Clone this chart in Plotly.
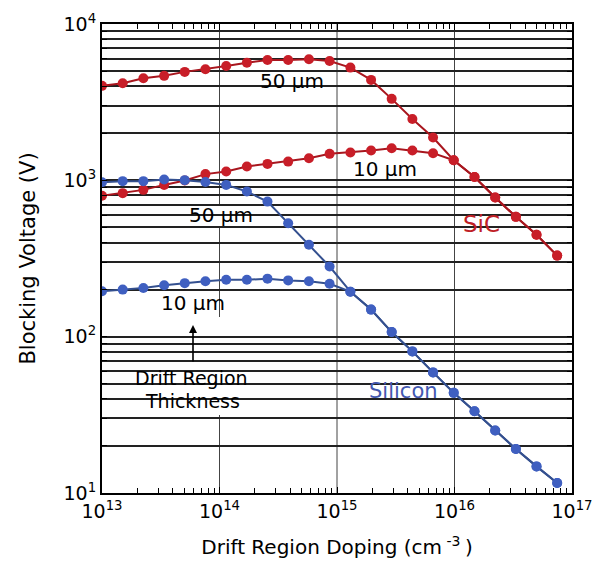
import math
import plotly.graph_objects as go

# ---------------- data ----------------
doping = [1.0e13, 1.5e13, 2.25e13, 3.38e13, 5.06e13, 7.59e13, 1.14e14, 1.71e14,
          2.56e14, 3.84e14, 5.77e14, 8.65e14, 1.30e15, 1.95e15, 2.92e15, 4.38e15,
          6.57e15, 9.85e15, 1.48e16, 2.22e16, 3.33e16, 4.99e16, 7.48e16]

sic_50um = [4020, 4180, 4500, 4660, 4940, 5140, 5390, 5660, 5890, 5890, 5950, 5800,
            5260, 4390, 3320, 2470, 1880, 1345, 1050, 776, 584, 449, 330]
sic_10um = [796, 828, 869, 935, 997, 1096, 1138, 1225, 1274, 1318, 1386, 1477,
            1506, 1550, 1606, 1550, 1492, 1345, 1050, 776, 584, 449, 330]
si_50um = [971, 988, 988, 1013, 1003, 975, 935, 848, 731, 532, 387, 281,
           194, 149, 107, 80.5, 59.1, 43.7, 33.3, 25.1, 19.1, 14.8, 11.6]
si_10um = [195, 200, 205, 213, 220, 226, 231, 231, 235, 229, 226, 218,
           194, 149, 107, 80.5, 59.1, 43.7, 33.3, 25.1, 19.1, 14.8, 11.6]

x_tickvals = [1e13, 1e14, 1e15, 1e16, 1e17]
x_ticktext = ["10<sup>13</sup>", "10<sup>14</sup>", "10<sup>15</sup>",
              "10<sup>16</sup>", "10<sup>17</sup>"]
y_tickvals = [1e1, 1e2, 1e3, 1e4]
y_ticktext = ["10<sup>1</sup>", "10<sup>2</sup>", "10<sup>3</sup>", "10<sup>4</sup>"]

# ---------------- style ----------------
FONT = "DejaVu Sans"
RED_M, RED_L = "#c81e28", "#a8161e"
BLUE_M, BLUE_L = "#3f5fc0", "#34508f"

# page has an 8px body margin; size the figure so page coords match reference
BODY = 8
W, H = 603 - 2 * BODY, 567 - 2 * BODY
PL, PT, PR, PB = 102, 24, 572, 493          # plot box in page pixels
L, T = PL - BODY, PT - BODY
PW, PH = PR - PL, PB - PT
R, B = W - L - PW, H - T - PH
XR = (13, 17)


def px(xp):
    return (xp - PL) / PW


def py(yp):
    return (PB - yp) / PH


fig = go.Figure()


def add_series(y, lc, mc):
    fig.add_trace(go.Scatter(
        x=doping, y=y, mode="lines+markers",
        line=dict(color=lc, width=2),
        marker=dict(color=mc, size=10, line=dict(width=0)),
        showlegend=False))


add_series(sic_50um, RED_L, RED_M)
add_series(sic_10um, RED_L, RED_M)
add_series(si_50um, BLUE_L, BLUE_M)
add_series(si_10um, BLUE_L, BLUE_M)

# vertical decade gridlines (drawn as shapes so the label box can hide a part)
for v in x_tickvals[1:-1]:
    xf = (math.log10(v) - XR[0]) / (XR[1] - XR[0])
    segs = [(0, 1)]
    if v == 1e14:
        segs = [(0, py(415)), (py(317), 1)]
    for y0, y1 in segs:
        fig.add_shape(type="line", xref="paper", yref="paper",
                      x0=xf, x1=xf, y0=y0, y1=y1,
                      line=dict(color="#444", width=1), layer="between")

# white boxes behind labels (interrupt gridlines, stay under data)
boxes = [
    (259, 326, 69, 92),    # SiC 50 um
    (187, 255, 205, 226),  # Si 50 um
    (133, 248, 368, 388),  # Drift Region
    (133, 248, 391, 410),  # Thickness
    (460, 502, 210, 237),  # SiC
    (366, 440, 380, 403),  # Silicon
]
for x0, x1, y0, y1 in boxes:
    fig.add_shape(type="rect", xref="paper", yref="paper",
                  x0=px(x0), x1=px(x1), y0=py(y1), y1=py(y0),
                  fillcolor="white", line=dict(width=0), layer="between")

labels = [
    ("50 µm", 292, 81, "black", 20),
    ("10 µm", 385, 169, "black", 20),
    ("50 µm", 221, 215, "black", 20),
    ("10 µm", 193, 303, "black", 20),
    ("Drift Region", 191, 378, "black", 19),
    ("Thickness", 192, 401, "black", 19),
    ("SiC", 481, 224, "#c02026", 23),
    ("Silicon", 403, 391, "#4358b0", 21),
]
for text, xx, yy, col, fs in labels:
    fig.add_annotation(text=text, xref="paper", yref="paper",
                       x=px(xx), y=py(yy), xanchor="center", yanchor="middle",
                       showarrow=False, font=dict(family=FONT, size=fs, color=col))

# arrow pointing up from "Drift Region" to "10 um"
fig.add_annotation(text="", xref="paper", yref="paper", x=px(193), y=py(325),
                   ax=0, ay=38, showarrow=True, arrowhead=2, arrowsize=1,
                   arrowwidth=1.6, arrowcolor="black", standoff=0)

x_minor = [m * 10 ** e for e in range(13, 17) for m in range(2, 10)]
y_minor = [m * 10 ** e for e in range(1, 4) for m in range(2, 10)]

fig.update_xaxes(
    type="log", range=list(XR), automargin=False,
    tickmode="array", tickvals=x_tickvals, ticktext=x_ticktext,
    tickfont=dict(family=FONT, size=19, color="black"),
    showgrid=False,
    showline=True, linecolor="black", linewidth=2, mirror="allticks",
    ticks="inside", ticklen=6, tickcolor="black",
    minor=dict(tickmode="array", tickvals=x_minor, ticks="inside", ticklen=5,
               tickwidth=1, tickcolor="black", showgrid=False),
    title=dict(text="Drift Region Doping (cm<sup> -3 </sup>)",
               font=dict(family=FONT, size=20, color="black"), standoff=24),
    zeroline=False,
)
fig.update_yaxes(
    type="log", range=[1, 4], automargin=False,
    tickmode="array", tickvals=y_tickvals, ticktext=y_ticktext,
    tickfont=dict(family=FONT, size=19, color="black"),
    showgrid=True, gridcolor="#222", gridwidth=1.6,
    showline=True, linecolor="black", linewidth=2, mirror="allticks",
    ticks="inside", ticklen=5, tickcolor="black",
    minor=dict(tickmode="array", tickvals=y_minor, ticks="inside", ticklen=5,
               tickwidth=1, tickcolor="black", showgrid=True,
               gridcolor="#222", gridwidth=1.6),
    title=dict(text="Blocking Voltage (V)",
               font=dict(family=FONT, size=21, color="black"), standoff=22),
    zeroline=False,
)

fig.update_layout(
    width=W, height=H,
    margin=dict(l=L, r=R, t=T, b=B),
    paper_bgcolor="white", plot_bgcolor="white",
    font=dict(family=FONT, color="black"),
    showlegend=False,
)

fig.write_html("out.html")
